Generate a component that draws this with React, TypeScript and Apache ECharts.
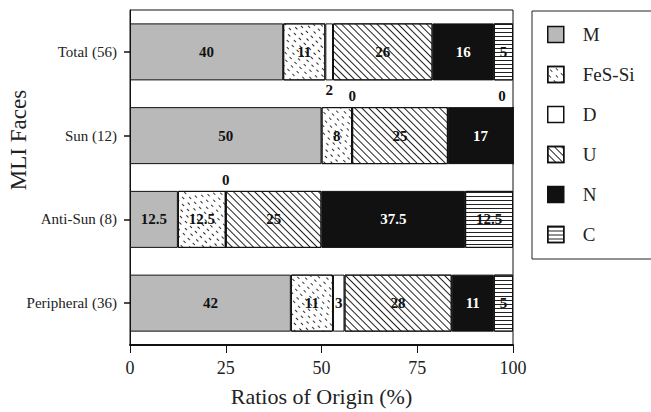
import React, { useEffect, useRef } from "react";
import * as echarts from "echarts";

const faces = ["Total (56)", "Sun (12)", "Anti-Sun (8)", "Peripheral (36)"];
const seriesNames = ["M", "FeS-Si", "D", "U", "N", "C"];
const mValues = [40, 50, 12.5, 42];
const fesValues = [11, 8, 12.5, 11];
const dValues = [2, 0, 0, 3];
const uValues = [26, 25, 25, 28];
const nValues = [16, 17, 37.5, 11];
const cValues = [5, 0, 12.5, 5];
const xTicks = [0, 25, 50, 75, 100];

const SERIF = '"Liberation Serif", "DejaVu Serif", serif';

export default function App() {
  const ref = useRef<HTMLDivElement>(null);
  useEffect(() => {
    if (!ref.current) return;
    const chart = echarts.init(ref.current, null, { renderer: "svg" });

    const labelBase = {
      show: true,
      position: "inside",
      fontFamily: SERIF,
      fontWeight: "bold",
      fontSize: 15,
      color: "#111",
    };

    const mkData = (vals: number[], name: string) =>
      vals.map((v, i) => {
        const d: any = { value: v };
        if (name === "D") {
          if (i === 0) d.label = { position: "bottom", distance: 2 };
          else if (v === 0) d.label = { position: "top", distance: 3 };
        }
        if (name === "C" && v === 0) {
          d.label = { position: "top", distance: 3, offset: [-11, 0] };
        }
        return d;
      });

    const styles: Record<string, any> = {
      M: { color: "#b9b9b9" },
      "FeS-Si": {
        color: "#ffffff",
        decal: {
          symbol: "rect",
          symbolSize: 1,
          color: "#333",
          dashArrayX: [[3, 4], [0, 3.5, 3, 0.5]],
          dashArrayY: [1, 4],
          rotation: Math.PI / 4,
        },
      },
      D: { color: "#ffffff" },
      U: {
        color: "#ffffff",
        decal: {
          symbol: "rect",
          symbolSize: 1,
          color: "#222",
          dashArrayX: [1, 0],
          dashArrayY: [1, 4],
          rotation: Math.PI / 4,
        },
      },
      N: { color: "#111111" },
      C: {
        color: "#ffffff",
        decal: {
          symbol: "rect",
          symbolSize: 1,
          color: "#222",
          dashArrayX: [1, 0],
          dashArrayY: [1, 3],
          rotation: 0,
        },
      },
    };

    const valsByName: Record<string, number[]> = {
      M: mValues,
      "FeS-Si": fesValues,
      D: dValues,
      U: uValues,
      N: nValues,
      C: cValues,
    };

    const series = seriesNames.map((name) => ({
      name,
      type: "bar",
      stack: "total",
      barWidth: 57,
      data: mkData(valsByName[name], name),
      itemStyle: {
        ...styles[name],
        borderColor: "#111",
        borderWidth: 1,
      },
      label: { ...labelBase, color: name === "N" ? "#ffffff" : "#111" },
    }));

    chart.setOption({
      animation: false,
      backgroundColor: "#ffffff",
      grid: {
        left: 130,
        right: 138,
        top: 10,
        bottom: 67,
        show: true,
        borderColor: "#111",
        borderWidth: 1,
        backgroundColor: "transparent",
      },
      legend: {
        orient: "vertical",
        left: 532,
        top: 11,
        data: seriesNames,
        itemWidth: 16,
        itemHeight: 16,
        itemGap: 21,
        itemStyle: { borderColor: "#111", borderWidth: 1.5 },
        padding: [14, 80, 15, 15],
        borderColor: "#222",
        borderWidth: 1,
        icon: "rect",
        textStyle: {
          fontFamily: SERIF,
          fontSize: 19,
          color: "#222",
          lineHeight: 16,
          padding: [0, 0, 0, 14],
        },
      },
      xAxis: {
        type: "value",
        min: xTicks[0],
        max: xTicks[xTicks.length - 1],
        interval: 25,
        name: "Ratios of Origin (%)",
        nameLocation: "middle",
        nameGap: 40,
        nameTextStyle: { fontFamily: SERIF, fontSize: 22, color: "#222" },
        axisLine: { show: true, lineStyle: { color: "#111", width: 2 } },
        axisTick: { show: true, length: 8, lineStyle: { color: "#111" } },
        axisLabel: { fontFamily: SERIF, fontSize: 18, color: "#222", margin: 14 },
        splitLine: { show: false },
      },
      yAxis: {
        type: "category",
        data: faces,
        inverse: true,
        axisLine: { show: true, lineStyle: { color: "#111" } },
        axisTick: { show: true, alignWithLabel: true, length: 6, lineStyle: { color: "#111", width: 1.5 } },
        axisLabel: { fontFamily: SERIF, fontSize: 15, color: "#222", margin: 13 },
      },
      graphic: [
        {
          type: "text",
          x: 18,
          y: 140,
          rotation: Math.PI / 2,
          style: {
            text: "MLI Faces",
            font: `23px ${SERIF}`,
            fill: "#222",
            textAlign: "center",
            textVerticalAlign: "middle",
          },
        },
      ],
      series,
    });

    return () => chart.dispose();
  }, []);

  return <div ref={ref} style={{ width: 651, height: 412, position: "absolute", left: 0, top: 0 }} />;
}
